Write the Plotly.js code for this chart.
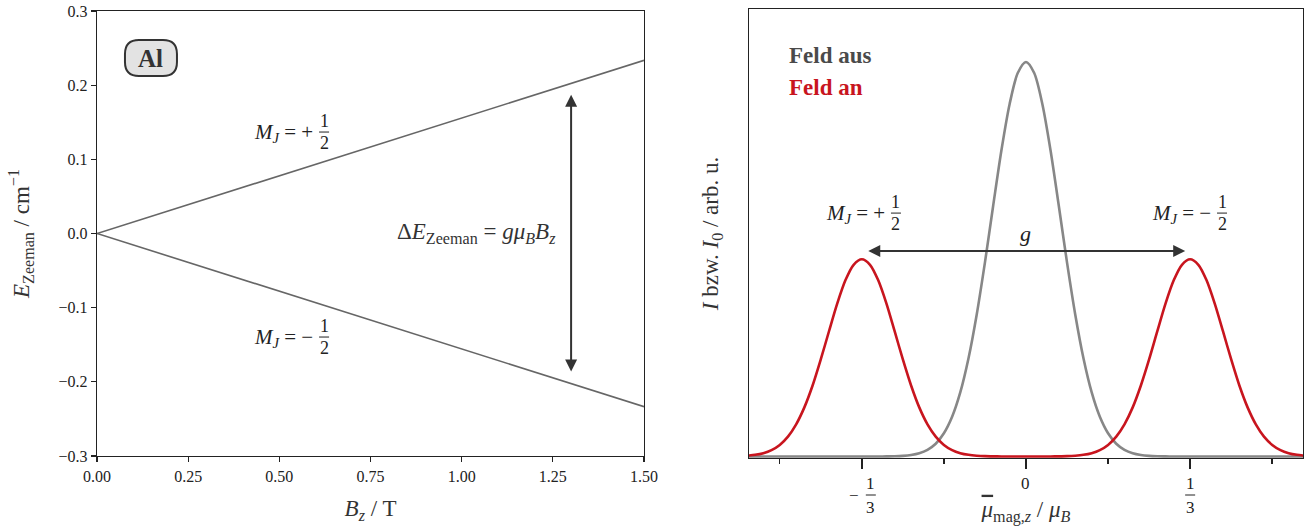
<!DOCTYPE html>
<html><head><meta charset="utf-8">
<script src="https://cdn.plot.ly/plotly-3.0.1.min.js"></script>
<style>html,body{margin:0;padding:0;background:#fff}#chart{width:1311px;height:530px}</style>
</head><body><div id="chart"></div>
<script>
// ---------- Left panel: Zeeman energies ----------
const fieldB = [0, 1.5];
const energyPlus = [0, 0.2335];
const energyMinus = [0, -0.2335];
const fieldTicks = [0, 0.25, 0.5, 0.75, 1.0, 1.25, 1.5];
const energyTicks = [-0.3, -0.2, -0.1, 0.0, 0.1, 0.2, 0.3];

// ---------- Right panel: intensity profiles ----------
const muGrid = [-0.5667,-0.55,-0.5333,-0.5167,-0.5,-0.4833,-0.4667,-0.45,-0.4333,-0.4167,-0.4,-0.3833,-0.3667,-0.35,-0.3333,-0.3167,-0.3,-0.2833,-0.2667,-0.25,-0.2333,-0.2167,-0.2,-0.1833,-0.1667,-0.15,-0.1333,-0.1167,-0.1,-0.0833,-0.0667,-0.05,-0.0333,-0.0167,0,
 0.0167,0.0333,0.05,0.0667,0.0833,0.1,0.1167,0.1333,0.15,0.1667,0.1833,0.2,0.2167,0.2333,0.25,0.2667,0.2833,0.3,0.3167,0.3333,0.35,0.3667,0.3833,0.4,0.4167,0.4333,0.45,0.4667,0.4833,0.5,0.5167,0.5333,0.55,0.5667];
const intensityOff = [0,0,0,0,0,0,0,0,0,0,0,0,0,0,0,0,0,
 0.0003,0.0007,0.0017,0.0039,0.0083,0.0169,0.0324,0.0588,0.1007,0.163,0.249,0.36,0.492,0.635,0.775,0.893,0.972,1,
 0.972,0.893,0.775,0.635,0.492,0.36,0.249,0.163,0.1007,0.0588,0.0324,0.0169,0.0083,0.0039,0.0017,0.0007,0.0003,
 0,0,0,0,0,0,0,0,0,0,0,0,0,0,0,0,0];
const intensityOn = [0.002,0.0042,0.0085,0.0162,0.0294,0.0504,0.0815,0.1245,0.18,0.246,0.3175,0.3875,0.4465,0.486,0.5,
 0.486,0.4465,0.3875,0.3175,0.246,0.18,0.1245,0.0815,0.0504,0.0294,0.0162,0.0085,0.0042,0.002,0.0009,0.0004,0.0001,0,0,0,
 0,0,0.0001,0.0004,0.0009,0.002,0.0042,0.0085,0.0162,0.0294,0.0504,0.0815,0.1245,0.18,0.246,0.3175,0.3875,0.4465,0.486,
 0.5,0.486,0.4465,0.3875,0.3175,0.246,0.18,0.1245,0.0815,0.0504,0.0294,0.0162,0.0085,0.0042,0.002];
const muTickVals = [-1/3, 0, 1/3];
const muTickText = ['−1/3', '0', '1/3'];
const muMinorVals = [-0.5, -1/6, 1/6, 0.5];

const FONT = '"Liberation Serif", "DejaVu Serif", serif';
const INK = '#222';
const LINEGREY = '#666';
const GREY = '#878787';
const RED = '#c8151e';

const traces = [
  {x: fieldB, y: energyPlus, xaxis: 'x', yaxis: 'y', mode: 'lines', line: {color: LINEGREY, width: 1.6}, name: 'M_J=+1/2'},
  {x: fieldB, y: energyMinus, xaxis: 'x', yaxis: 'y', mode: 'lines', line: {color: LINEGREY, width: 1.6}, name: 'M_J=-1/2'},
  {x: muGrid, y: intensityOff, xaxis: 'x2', yaxis: 'y2', mode: 'lines', line: {color: GREY, width: 2.6, shape: 'spline', smoothing: 0.8}, name: 'Feld aus'},
  {x: muGrid, y: intensityOn, xaxis: 'x2', yaxis: 'y2', mode: 'lines', line: {color: RED, width: 2.6, shape: 'spline', smoothing: 0.8}, name: 'Feld an'}
];

const annotations = [];
const shapes = [];

function fracLabel(xref, yref, x, y, prefix, num, den, size, fracSize) {
  annotations.push({xref, yref, x, y, text: prefix, showarrow: false, xanchor: 'right', yanchor: 'middle',
    yshift: -1, font: {family: FONT, size, color: INK}});
  annotations.push({xref, yref, x, y, text: num, showarrow: false, xanchor: 'center', yanchor: 'middle',
    xshift: 9, yshift: 11, font: {family: FONT, size: fracSize, color: INK}});
  annotations.push({xref, yref, x, y, text: den, showarrow: false, xanchor: 'center', yanchor: 'middle',
    xshift: 9, yshift: -11, font: {family: FONT, size: fracSize, color: INK}});
  shapes.push({type: 'line', xref, yref, xsizemode: 'pixel', ysizemode: 'pixel', xanchor: x, yanchor: y,
    x0: 4, x1: 14, y0: 0, y1: 0, line: {color: INK, width: 1}});
}

// left labels
const MJ = '<i>M</i><sub><i>J</i></sub> = ';
fracLabel('x', 'y', 0.598, 0.1368, MJ + '+', '1', '2', 21, 18);
fracLabel('x', 'y', 0.598, -0.1396, MJ + '−', '1', '2', 21, 18);
annotations.push({xref: 'x', yref: 'y', x: 1.264, y: 0, text: 'Δ<i>E</i><sub>Zeeman</sub> = <i>gμ</i><sub><i>B</i></sub><i>B</i><sub><i>z</i></sub>',
  showarrow: false, xanchor: 'right', yanchor: 'middle', font: {family: FONT, size: 23, color: '#333'}});
annotations.push({xref: 'x', yref: 'y', x: 1.3, y: 0.187, ax: 1.3, ay: -0.188, axref: 'x', ayref: 'y', text: '',
  showarrow: true, arrowside: 'end+start', arrowhead: 2, startarrowhead: 2, arrowsize: 1.2, startarrowsize: 1.2, arrowwidth: 2, arrowcolor: '#333'});
// Al badge
shapes.push({type: 'path', xref: 'x', yref: 'y', xsizemode: 'pixel', ysizemode: 'pixel', xanchor: 0.148, yanchor: 0.2366,
  path: 'M -12,-18 L 12,-18 Q 26,-18 26,-4 L 26,4 Q 26,18 12,18 L -12,18 Q -26,18 -26,4 L -26,-4 Q -26,-18 -12,-18 Z',
  fillcolor: '#e3e3e3', line: {color: '#333', width: 2}});
annotations.push({xref: 'x', yref: 'y', x: 0.148, y: 0.2366, text: '<b>Al</b>', showarrow: false, xanchor: 'center', yanchor: 'middle',
  font: {family: FONT, size: 25, color: '#333'}});

// right labels
fracLabel('x2', 'y2', -0.2823, 0.617, MJ + '+', '1', '2', 21, 18);
fracLabel('x2', 'y2', 0.3798, 0.617, MJ + '−', '1', '2', 21, 18);
annotations.push({xref: 'x2', yref: 'y2', x: 0, y: 0.5665, text: '<i>g</i>', showarrow: false, xanchor: 'center', yanchor: 'middle',
  font: {family: FONT, size: 22, color: INK}});
annotations.push({xref: 'x2', yref: 'y2', x: 0.3233, y: 0.521, ax: -0.3233, ay: 0.521, axref: 'x2', ayref: 'y2', text: '',
  showarrow: true, arrowside: 'end+start', arrowhead: 2, startarrowhead: 2, arrowsize: 1.2, startarrowsize: 1.2, arrowwidth: 2, arrowcolor: '#333'});
annotations.push({xref: 'x2', yref: 'y2', x: -0.4854, y: 1.0177, text: '<b>Feld aus</b>', showarrow: false, xanchor: 'left', yanchor: 'middle',
  font: {family: FONT, size: 23, color: '#4a4a4a'}});
annotations.push({xref: 'x2', yref: 'y2', x: -0.4854, y: 0.9366, text: '<b>Feld an</b>', showarrow: false, xanchor: 'left', yanchor: 'middle',
  font: {family: FONT, size: 23, color: RED}});

// right tick labels (fractions)
muTickVals.forEach((v, i) => {
  const t = muTickText[i];
  if (t.indexOf('/') < 0) {
    annotations.push({xref: 'x2', yref: 'paper', x: v, y: 0, text: t, showarrow: false, xanchor: 'center', yanchor: 'middle',
      yshift: -25, font: {family: FONT, size: 17, color: INK}});
    return;
  }
  const neg = t[0] === '−';
  const parts = t.replace('−', '').split('/');
  const fx = neg ? 9 : 0;
  if (neg) annotations.push({xref: 'x2', yref: 'paper', x: v, y: 0, text: '−', showarrow: false, xanchor: 'center', yanchor: 'middle',
      xshift: -8, yshift: -37, font: {family: FONT, size: 17, color: INK}});
  annotations.push({xref: 'x2', yref: 'paper', x: v, y: 0, text: parts[0], showarrow: false, xanchor: 'center', yanchor: 'middle',
      xshift: fx, yshift: -25, font: {family: FONT, size: 17, color: INK}});
  annotations.push({xref: 'x2', yref: 'paper', x: v, y: 0, text: parts[1], showarrow: false, xanchor: 'center', yanchor: 'middle',
      xshift: fx, yshift: -49, font: {family: FONT, size: 17, color: INK}});
  shapes.push({type: 'line', xref: 'x2', yref: 'paper', xsizemode: 'pixel', ysizemode: 'pixel', xanchor: v, yanchor: 0,
    x0: fx - 5, x1: fx + 5, y0: -37, y1: -37, line: {color: INK, width: 1}});
});

const axCommon = {showgrid: false, zeroline: false, showline: true, mirror: true, linecolor: INK, linewidth: 1.3,
  ticks: 'outside', tickcolor: INK, tickwidth: 1.2, tickfont: {family: FONT, size: 16, color: INK}};

const layout = {
  width: 1311, height: 530,
  margin: {l: 97, r: 8, t: 9, b: 72},
  paper_bgcolor: '#fff', plot_bgcolor: '#fff',
  showlegend: false,
  font: {family: FONT, color: INK},
  xaxis: Object.assign({}, axCommon, {domain: [0, 0.4536], range: [0, 1.5], tickmode: 'array', tickvals: fieldTicks,
    ticktext: fieldTicks.map(v => v.toFixed(2)), ticklen: 5, anchor: 'y',
    title: {text: '<i>B</i><sub><i>z</i></sub> / T', font: {family: FONT, size: 23, color: '#333'}, standoff: 16}}),
  yaxis: Object.assign({}, axCommon, {domain: [0.00445, 0.99555], range: [-0.3, 0.3], tickmode: 'array', tickvals: energyTicks,
    ticktext: energyTicks.map(v => (v < 0 ? '−' : '') + Math.abs(v).toFixed(1)), ticklen: 5, anchor: 'x',
    title: {text: '<i>E</i><sub>Zeeman</sub> / cm<sup>−1</sup>', font: {family: FONT, size: 23, color: '#333'}, standoff: 22}}),
  xaxis2: Object.assign({}, axCommon, {domain: [0.5406, 1], range: [-0.5625, 0.5625], tickmode: 'array', tickvals: muTickVals,
    showticklabels: false, ticklen: 10, tickwidth: 1.5, anchor: 'y2',
    minor: {tickmode: 'array', tickvals: muMinorVals, ticks: 'outside', ticklen: 5, tickcolor: INK, tickwidth: 1.5},
    title: {text: '<span style="text-decoration:overline"><i>μ</i></span><sub>mag,<i>z</i></sub> / <i>μ</i><sub><i>B</i></sub>', font: {family: FONT, size: 23, color: '#333'}, standoff: 32}}),
  yaxis2: Object.assign({}, axCommon, {domain: [0, 1], range: [-0.0038, 1.1343], ticks: '', showticklabels: false, anchor: 'x2',
    title: {text: '<i>I</i> bzw. <i>I</i><sub>0</sub> / arb. u.', font: {family: FONT, size: 23, color: '#333'}, standoff: 22}}),
  annotations, shapes
};

Plotly.newPlot('chart', traces, layout, {staticPlot: true, displayModeBar: false});
</script></body></html>
